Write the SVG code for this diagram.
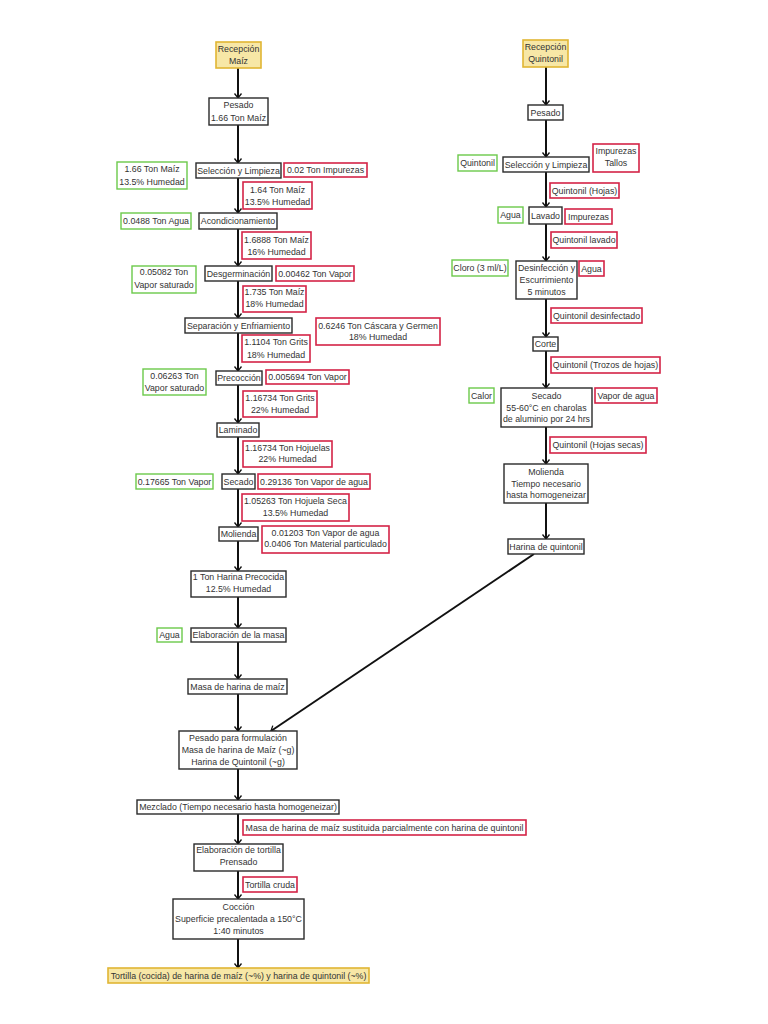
<svg xmlns="http://www.w3.org/2000/svg" width="768" height="1024" viewBox="0 0 768 1024">
<style>
rect{stroke-width:1.4}
.b{fill:#fff;stroke:#2a2a2a}
.r{fill:#fff;stroke:#d42347;stroke-width:1.6}
.g{fill:#fff;stroke:#6cc94a}
.y{fill:#f7e7a6;stroke:#e0b634;stroke-width:1.6}
text{font-family:"Liberation Sans",Arial,sans-serif;font-size:8.8px;fill:#333;text-anchor:middle}
.c line{stroke:#111;stroke-width:2;marker-end:url(#ah)}
</style>
<defs>
<marker id="ah" markerWidth="10" markerHeight="10" refX="8" refY="5" orient="auto" markerUnits="userSpaceOnUse">
<path d="M3.5,1.5 L8,5 L3.5,8.5" fill="none" stroke="#111" stroke-width="1.3"/>
</marker>
</defs>
<rect width="768" height="1024" fill="#fff"/>
<g class="c" id="connectors">
<line x1="238" y1="68" x2="238" y2="98"/>
<line x1="238" y1="125" x2="238" y2="163"/>
<line x1="238" y1="178" x2="238" y2="213"/>
<line x1="238" y1="229" x2="238" y2="266"/>
<line x1="238" y1="281" x2="238" y2="318"/>
<line x1="238" y1="333" x2="238" y2="371"/>
<line x1="238" y1="385" x2="238" y2="423"/>
<line x1="238" y1="437" x2="238" y2="474"/>
<line x1="238" y1="489" x2="238" y2="527"/>
<line x1="238" y1="541" x2="238" y2="571"/>
<line x1="238" y1="597" x2="238" y2="628"/>
<line x1="238" y1="642" x2="238" y2="679"/>
<line x1="238" y1="694" x2="238" y2="731"/>
<line x1="238" y1="769" x2="238" y2="800"/>
<line x1="238" y1="814" x2="238" y2="844"/>
<line x1="238" y1="871" x2="238" y2="899"/>
<line x1="238" y1="939" x2="238" y2="968"/>
<line x1="546" y1="67" x2="546" y2="105"/>
<line x1="546" y1="120" x2="546" y2="157"/>
<line x1="546" y1="172" x2="546" y2="207"/>
<line x1="546" y1="224" x2="546" y2="261"/>
<line x1="546" y1="299" x2="546" y2="337"/>
<line x1="546" y1="351" x2="546" y2="388"/>
<line x1="546" y1="427" x2="546" y2="464"/>
<line x1="546" y1="503" x2="546" y2="539"/>
<line x1="534" y1="554" x2="271" y2="731"/>
</g>

<g id="recepcion_maiz"><rect class="y" x="216" y="42" width="45" height="26"/><text x="238.5" y="52">Recepción</text><text x="238.5" y="64">Maíz</text></g>
<g id="pesado_maiz"><rect class="b" x="209" y="98" width="59" height="27"/><text x="238.5" y="108">Pesado</text><text x="238.5" y="121">1.66 Ton Maíz</text></g>
<g id="seleccion"><rect class="b" x="196" y="163" width="85" height="15"/><text x="238.5" y="173.5">Selección y Limpieza</text></g>
<g id="impurezas"><rect class="r" x="284" y="163" width="83" height="14"/><text x="325.5" y="173">0.02 Ton Impurezas</text></g>
<g id="entrada_maiz"><rect class="g" x="117" y="162" width="70" height="27"/><text x="152" y="172">1.66 Ton Maíz</text><text x="152" y="185">13.5% Humedad</text></g>
<g id="maiz_164"><rect class="r" x="243" y="182" width="69" height="27"/><text x="277.5" y="193">1.64 Ton Maíz</text><text x="277.5" y="205">13.5% Humedad</text></g>
<g id="agua_acond"><rect class="g" x="121" y="213" width="70" height="16"/><text x="156" y="224">0.0488 Ton Agua</text></g>
<g id="acondicionamiento"><rect class="b" x="199" y="213" width="78" height="16"/><text x="238" y="224">Acondicionamiento</text></g>
<g id="maiz_16888"><rect class="r" x="242" y="232" width="69" height="27"/><text x="276.5" y="243">1.6888 Ton Maíz</text><text x="276.5" y="255">16% Humedad</text></g>
<g id="vapor_sat1"><rect class="g" x="132" y="266" width="64" height="27"/><text x="164" y="275">0.05082 Ton</text><text x="164" y="288">Vapor saturado</text></g>
<g id="desgerminacion"><rect class="b" x="205" y="266" width="67" height="15"/><text x="238.5" y="276.5">Desgerminación</text></g>
<g id="vapor_00462"><rect class="r" x="276" y="266" width="78" height="15"/><text x="315" y="276.5">0.00462 Ton Vapor</text></g>
<g id="maiz_1735"><rect class="r" x="243" y="286" width="63" height="26"/><text x="274.5" y="295">1.735 Ton Maíz</text><text x="274.5" y="307">18% Humedad</text></g>
<g id="separacion"><rect class="b" x="185" y="318" width="107" height="15"/><text x="238.5" y="328.5">Separación y Enfriamiento</text></g>
<g id="cascara"><rect class="r" x="316" y="318" width="124" height="27"/><text x="378" y="329">0.6246 Ton Cáscara y Germen</text><text x="378" y="340">18% Humedad</text></g>
<g id="grits_11104"><rect class="r" x="242" y="335" width="68" height="27"/><text x="276" y="345">1.1104 Ton Grits</text><text x="276" y="358">18% Humedad</text></g>
<g id="vapor_sat2"><rect class="g" x="143" y="369" width="63" height="26"/><text x="174.5" y="379">0.06263 Ton</text><text x="174.5" y="391">Vapor saturado</text></g>
<g id="precoccion"><rect class="b" x="216" y="371" width="46" height="14"/><text x="239" y="381">Precocción</text></g>
<g id="vapor_005694"><rect class="r" x="266" y="370" width="83" height="14"/><text x="307.5" y="380">0.005694 Ton Vapor</text></g>
<g id="grits_116734"><rect class="r" x="243" y="391" width="74" height="26"/><text x="280" y="401">1.16734 Ton Grits</text><text x="280" y="413">22% Humedad</text></g>
<g id="laminado"><rect class="b" x="217" y="423" width="42" height="14"/><text x="238" y="433">Laminado</text></g>
<g id="hojuelas"><rect class="r" x="243" y="441" width="89" height="26"/><text x="287.5" y="451">1.16734 Ton Hojuelas</text><text x="287.5" y="462">22% Humedad</text></g>
<g id="vapor_17665"><rect class="g" x="136" y="474" width="77" height="15"/><text x="174.5" y="484.5">0.17665 Ton Vapor</text></g>
<g id="secado"><rect class="b" x="222" y="474" width="33" height="15"/><text x="238.5" y="484.5">Secado</text></g>
<g id="vapor_29136"><rect class="r" x="258" y="474" width="112" height="15"/><text x="314" y="484.5">0.29136 Ton Vapor de agua</text></g>
<g id="hojuela_seca"><rect class="r" x="242" y="494" width="107" height="27"/><text x="295.5" y="504">1.05263 Ton Hojuela Seca</text><text x="295.5" y="516">13.5% Humedad</text></g>
<g id="molienda"><rect class="b" x="219" y="527" width="39" height="14"/><text x="238.5" y="537">Molienda</text></g>
<g id="molienda_salida"><rect class="r" x="262" y="526" width="127" height="27"/><text x="325.5" y="536">0.01203 Ton Vapor de agua</text><text x="325.5" y="547">0.0406 Ton Material particulado</text></g>
<g id="harina_precocida"><rect class="b" x="191" y="571" width="95" height="26"/><text x="238.5" y="580">1 Ton Harina Precocida</text><text x="238.5" y="592">12.5% Humedad</text></g>
<g id="agua_masa"><rect class="g" x="157" y="628" width="25" height="14"/><text x="169.5" y="638">Agua</text></g>
<g id="elaboracion_masa"><rect class="b" x="191" y="628" width="95" height="14"/><text x="238.5" y="638">Elaboración de la masa</text></g>
<g id="masa_maiz"><rect class="b" x="188" y="679" width="99" height="15"/><text x="237.5" y="689.5">Masa de harina de maíz</text></g>
<g id="pesado_formulacion"><rect class="b" x="179" y="731" width="118" height="38"/><text x="238" y="741">Pesado para formulación</text><text x="238" y="753">Masa de harina de Maíz (~g)</text><text x="238" y="765">Harina de Quintonil (~g)</text></g>
<g id="mezclado"><rect class="b" x="137" y="800" width="202" height="14"/><text x="238" y="810">Mezclado (Tiempo necesario hasta homogeneizar)</text></g>
<g id="masa_sustituida"><rect class="r" x="243" y="820" width="283" height="15"/><text x="384.5" y="830.5">Masa de harina de maíz sustituida parcialmente con harina de quintonil</text></g>
<g id="elaboracion_tortilla"><rect class="b" x="194" y="844" width="89" height="27"/><text x="238.5" y="853">Elaboración de tortilla</text><text x="238.5" y="865">Prensado</text></g>
<g id="tortilla_cruda"><rect class="r" x="243" y="877" width="54" height="15"/><text x="270" y="887.5">Tortilla cruda</text></g>
<g id="coccion"><rect class="b" x="173" y="899" width="131" height="40"/><text x="238.5" y="910">Cocción</text><text x="238.5" y="922">Superficie precalentada a 150°C</text><text x="238.5" y="934">1:40 minutos</text></g>
<g id="tortilla_final"><rect class="y" x="108" y="968" width="261" height="15"/><text x="238.5" y="978.5">Tortilla (cocida) de harina de maíz (~%) y harina de quintonil (~%)</text></g>

<g id="recepcion_quintonil"><rect class="y" x="523" y="40" width="45" height="27"/><text x="545.5" y="50">Recepción</text><text x="545.5" y="62">Quintonil</text></g>
<g id="pesado_q"><rect class="b" x="528" y="105" width="35" height="15"/><text x="545.5" y="115.5">Pesado</text></g>
<g id="seleccion_q"><rect class="b" x="503" y="157" width="86" height="15"/><text x="546" y="167.5">Selección y Limpieza</text></g>
<g id="quintonil_in"><rect class="g" x="458" y="155" width="39" height="16"/><text x="477.5" y="166">Quintonil</text></g>
<g id="impurezas_tallos"><rect class="r" x="593" y="144" width="46" height="28"/><text x="616" y="154">Impurezas</text><text x="616" y="166">Tallos</text></g>
<g id="quintonil_hojas"><rect class="r" x="550" y="183" width="69" height="15"/><text x="584.5" y="193.5">Quintonil (Hojas)</text></g>
<g id="agua_q"><rect class="g" x="498" y="207" width="25" height="16"/><text x="510.5" y="218">Agua</text></g>
<g id="lavado"><rect class="b" x="529" y="207" width="33" height="17"/><text x="545.5" y="218.5">Lavado</text></g>
<g id="impurezas_q"><rect class="r" x="565" y="209" width="47" height="15"/><text x="588.5" y="219.5">Impurezas</text></g>
<g id="quintonil_lavado"><rect class="r" x="551" y="232" width="66" height="16"/><text x="584" y="243">Quintonil lavado</text></g>
<g id="cloro"><rect class="g" x="452" y="260" width="56" height="16"/><text x="480" y="271">Cloro (3 ml/L)</text></g>
<g id="desinfeccion"><rect class="b" x="516" y="261" width="61" height="38"/><text x="546.5" y="271">Desinfección y</text><text x="546.5" y="283">Escurrimiento</text><text x="546.5" y="294.5">5 minutos</text></g>
<g id="agua_out"><rect class="r" x="579" y="261" width="25" height="15"/><text x="591.5" y="271.5">Agua</text></g>
<g id="quintonil_desinfectado"><rect class="r" x="551" y="308" width="91" height="15"/><text x="596.5" y="318.5">Quintonil desinfectado</text></g>
<g id="corte"><rect class="b" x="533" y="337" width="25" height="14"/><text x="545.5" y="347">Corte</text></g>
<g id="quintonil_trozos"><rect class="r" x="551" y="357" width="109" height="16"/><text x="605.5" y="368">Quintonil (Trozos de hojas)</text></g>
<g id="calor"><rect class="g" x="469" y="388" width="25" height="15"/><text x="481.5" y="398.5">Calor</text></g>
<g id="secado_q"><rect class="b" x="501" y="388" width="91" height="39"/><text x="546.5" y="399">Secado</text><text x="546.5" y="410.5">55-60°C en charolas</text><text x="546.5" y="422">de aluminio por 24 hrs</text></g>
<g id="vapor_agua_q"><rect class="r" x="595" y="388" width="62" height="15"/><text x="626" y="398.5">Vapor de agua</text></g>
<g id="hojas_secas"><rect class="r" x="550" y="437" width="96" height="16"/><text x="598" y="448">Quintonil (Hojas secas)</text></g>
<g id="molienda_q"><rect class="b" x="504" y="464" width="84" height="39"/><text x="546" y="475">Molienda</text><text x="546" y="486.5">Tiempo necesario</text><text x="546" y="498">hasta homogeneizar</text></g>
<g id="harina_quintonil"><rect class="b" x="508" y="539" width="76" height="15"/><text x="546" y="549.5">Harina de quintonil</text></g>
</svg>
